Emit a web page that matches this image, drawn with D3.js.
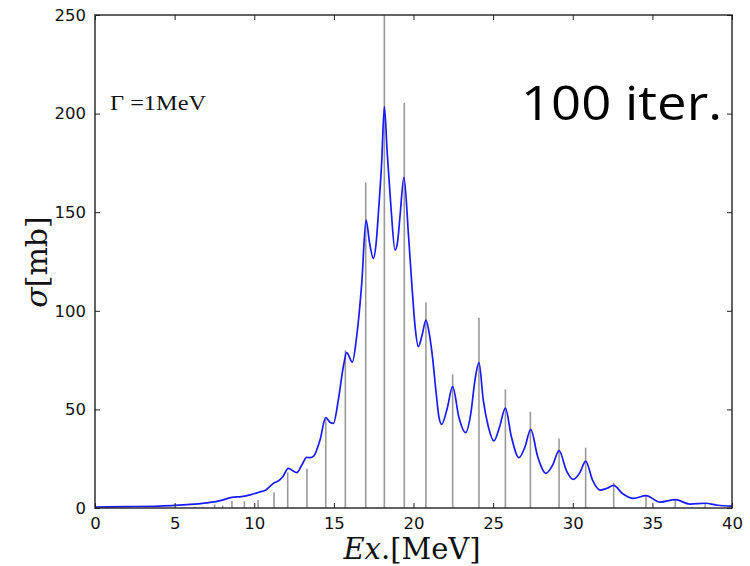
<!DOCTYPE html>
<html>
<head>
<meta charset="utf-8">
<script src="https://cdn.jsdelivr.net/npm/d3@7"></script>
<style>
  html, body { margin: 0; padding: 0; background: #fff; }
  svg { display: block; }
</style>
</head>
<body>
<svg id="chart" width="750" height="566"></svg>
<script>
// ---- Data ----
const stickEnergy = [6.28, 6.8, 7.51, 8.02, 8.6, 9.38, 10.24, 11.24, 12.1, 13.31, 14.49, 15.72, 17.0, 18.17, 19.42, 20.78, 22.46, 24.11, 25.77, 27.34, 29.14, 30.81, 32.57, 34.6, 36.44, 38.32];
const stickSigma  = [0.6, 0.6, 1.8, 1.2, 3.6, 3.4, 4.0, 8.0, 18.1, 19.9, 45.0, 80.0, 165.0, 265.0, 205.5, 104.3, 67.8, 96.5, 60.2, 48.8, 35.3, 30.6, 12.8, 6.6, 4.4, 2.6];

const curveEnergy = [0, 2, 4, 5, 6, 7, 7.5, 8, 8.6, 9.2, 9.8, 10.3, 10.7, 11.2, 11.6, 11.8, 12.14, 12.4, 12.66, 13.0, 13.29, 13.5, 13.75, 14.13, 14.49, 14.75, 14.97, 15.28, 15.6, 15.8, 16.16, 16.43, 16.75, 17.02, 17.25, 17.48, 17.65, 17.8, 18.0, 18.17, 18.35, 18.59, 18.84, 19.0, 19.15, 19.4, 19.68, 19.89, 20.1, 20.3, 20.55, 20.78, 21.0, 21.2, 21.4, 21.6, 21.77, 22.1, 22.46, 22.85, 23.27, 23.6, 23.86, 24.11, 24.38, 24.7, 25.05, 25.4, 25.77, 26.15, 26.62, 27.0, 27.36, 27.8, 28.32, 28.75, 29.14, 29.6, 30.04, 30.45, 30.81, 31.25, 31.71, 32.15, 32.57, 33.1, 33.81, 34.6, 35.48, 36.44, 37.36, 38.32, 39.1, 40];
const curveSigma  = [0.5, 0.7, 1.0, 1.3, 1.8, 2.6, 3.1, 4.0, 5.4, 5.8, 6.8, 8.0, 9.0, 12.5, 14.2, 16.0, 20.1, 19.0, 17.9, 22.0, 25.7, 25.5, 26.5, 34.5, 45.8, 43.5, 42.9, 54.8, 72.0, 78.8, 74.0, 86.9, 114.0, 146.0, 134.0, 126.6, 134.0, 150.0, 175.0, 203.5, 180.0, 152.0, 130.8, 135.0, 147.7, 167.7, 139.0, 114.0, 92.0, 81.8, 88.0, 95.3, 88.0, 76.0, 60.0, 46.0, 42.4, 50.0, 61.5, 46.0, 38.2, 48.0, 64.9, 73.7, 54.8, 41.2, 34.0, 41.0, 50.6, 36.0, 25.5, 31.0, 39.9, 26.0, 17.6, 22.0, 29.1, 19.0, 14.5, 18.0, 23.8, 14.0, 9.1, 10.0, 11.5, 7.5, 4.9, 6.3, 3.0, 4.2, 2.0, 2.4, 1.4, 0.9];

const xTicks = [0, 5, 10, 15, 20, 25, 30, 35, 40];
const yTicks = [0, 50, 100, 150, 200, 250];

// ---- Layout ----
const svg = d3.select("#chart");
const pLeft = 95, pRight = 732, pTop = 15, pBottom = 508;

const x = d3.scaleLinear().domain([0, 40]).range([pLeft, pRight]);
const y = d3.scaleLinear().domain([0, 250]).range([pBottom, pTop]);

svg.append("defs").append("clipPath").attr("id", "plotclip")
  .append("rect").attr("x", pLeft).attr("y", pTop).attr("width", pRight - pLeft).attr("height", pBottom - pTop);

const plot = svg.append("g").attr("clip-path", "url(#plotclip)");

// sticks
plot.selectAll("line.stick")
  .data(stickEnergy.map((e, i) => ({e, s: stickSigma[i]})))
  .enter().append("line")
  .attr("class", "stick")
  .attr("x1", d => x(d.e)).attr("x2", d => x(d.e))
  .attr("y1", y(0)).attr("y2", d => y(d.s))
  .attr("stroke", "#9a9a9a")
  .attr("stroke-width", 1.6);

// curve
const line = d3.line()
  .x(d => x(d.e)).y(d => y(d.s))
  .curve(d3.curveMonotoneX);
plot.append("path")
  .datum(curveEnergy.map((e, i) => ({e, s: curveSigma[i]})))
  .attr("d", line)
  .attr("fill", "none")
  .attr("stroke", "#1a1aff")
  .attr("stroke-width", 1.7);

// axes (ticks inward, on all sides)
const tickFont = "'DejaVu Sans', sans-serif";
const gB = svg.append("g").attr("transform", `translate(0,${pBottom})`)
  .call(d3.axisBottom(x).tickValues(xTicks).tickSizeInner(-5).tickSizeOuter(0).tickPadding(9));
const gT = svg.append("g").attr("transform", `translate(0,${pTop})`)
  .call(d3.axisTop(x).tickValues(xTicks).tickSizeInner(-5).tickSizeOuter(0).tickFormat(""));
const gL = svg.append("g").attr("transform", `translate(${pLeft},0)`)
  .call(d3.axisLeft(y).tickValues(yTicks).tickSizeInner(-5).tickSizeOuter(0).tickPadding(9));
const gR = svg.append("g").attr("transform", `translate(${pRight},0)`)
  .call(d3.axisRight(y).tickValues(yTicks).tickSizeInner(-5).tickSizeOuter(0).tickFormat(""));

[gB, gT, gL, gR].forEach(g => {
  g.select(".domain").remove();
  g.selectAll(".tick line").attr("stroke", "#222").attr("stroke-width", 1);
  g.selectAll("text").attr("font-family", tickFont).attr("font-size", 16.5).attr("fill", "#111");
});

// frame
svg.append("rect")
  .attr("x", pLeft).attr("y", pTop).attr("width", pRight - pLeft).attr("height", pBottom - pTop)
  .attr("fill", "none").attr("stroke", "#222").attr("stroke-width", 1.4);

// annotation
svg.append("text")
  .attr("x", 110).attr("y", 110)
  .attr("font-family", "'Liberation Serif', 'DejaVu Serif', serif")
  .attr("font-size", 20)
  .attr("fill", "#111")
  .attr("textLength", 96)
  .attr("lengthAdjust", "spacingAndGlyphs")
  .text("Γ =1MeV");

svg.append("text")
  .attr("x", 521).attr("y", 120)
  .attr("font-family", "'Open Sans', 'Noto Sans', sans-serif")
  .attr("font-size", 47)
  .attr("fill", "#000")
  .attr("textLength", 201)
  .attr("lengthAdjust", "spacingAndGlyphs")
  .text("100 iter.");

// axis titles
const xl = svg.append("text")
  .attr("x", 412).attr("y", 559)
  .attr("text-anchor", "middle")
  .attr("font-family", "'DejaVu Serif', serif")
  .attr("font-size", 29)
  .attr("fill", "#111");
xl.append("tspan").attr("font-style", "italic").text("Ex");
xl.append("tspan").text(".[MeV]");

const yl = svg.append("text")
  .attr("transform", "translate(47,262) rotate(-90)")
  .attr("text-anchor", "middle")
  .attr("font-family", "'DejaVu Serif', serif")
  .attr("font-size", 30)
  .attr("fill", "#111");
yl.append("tspan").attr("font-style", "italic").text("σ");
yl.append("tspan").text("[mb]");
</script>
</body>
</html>
